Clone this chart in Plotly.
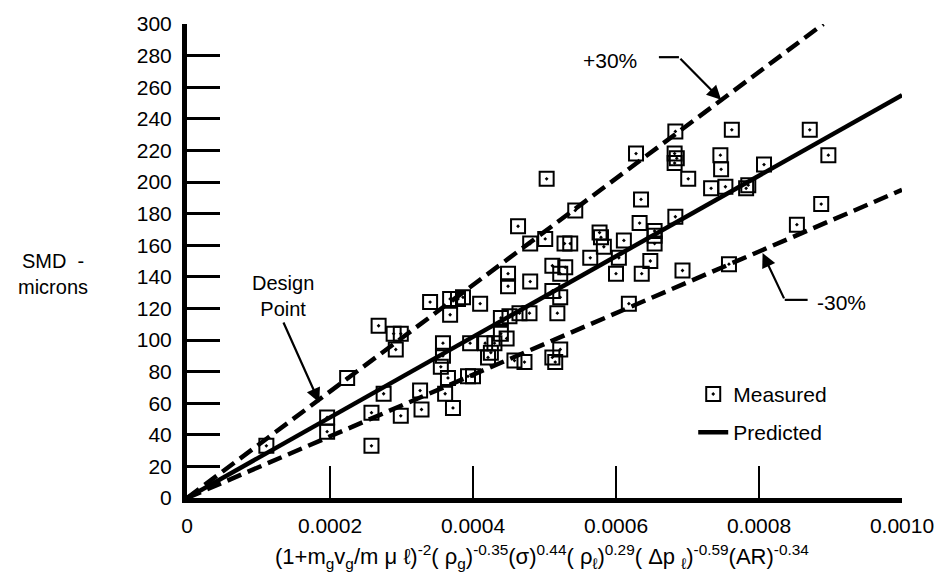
import plotly.graph_objects as go

# ---- data (x in units of 1e-4) ----
meas_x_e4 = [1.11, 1.96, 1.96, 2.24, 2.68, 2.89, 2.99, 2.92, 2.75, 2.58, 2.58, 2.99, 3.26, 3.28,
             3.40, 3.68, 3.79, 3.86, 4.10, 3.68, 3.58, 3.58, 3.55, 3.65, 3.61, 3.72, 3.93, 4.00,
             3.96, 4.17, 4.30, 4.21, 4.25, 4.39, 4.47, 4.39, 4.51, 4.65, 4.79, 4.58, 4.72, 4.49,
             4.49, 4.80, 4.63, 4.80, 5.01, 5.28, 5.03, 5.11, 5.22, 5.11, 5.22, 5.18, 5.11, 5.22,
             5.15, 5.36, 5.43, 5.29, 5.64, 5.77, 5.79, 5.83, 6.11, 6.04, 6.00, 6.36, 6.18, 6.28,
             6.35, 6.33, 6.54, 6.54, 6.54, 6.48, 6.83, 6.82, 6.82, 6.85, 6.83, 6.93, 7.01, 7.46,
             7.47, 7.33, 7.53, 7.82, 7.85, 7.62, 7.58, 8.07, 8.71, 8.97, 8.87, 8.53]
meas_y = [33, 51, 42, 76, 109, 104, 104, 94, 66, 54, 33, 52, 68, 56,
          124, 126, 126, 127, 123, 116, 98, 90, 83, 76, 66, 57, 77, 77,
          98, 98, 98, 89, 92, 104, 101, 114, 115, 117, 117, 87, 86, 142,
          134, 137, 172, 161, 164, 161, 202, 147, 142, 131, 127, 117, 89, 94,
          86, 161, 182, 146, 152, 168, 165, 159, 163, 152, 142, 142, 123, 218,
          189, 174, 169, 166, 161, 150, 232, 218, 212, 215, 178, 144, 202, 217,
          208, 196, 197, 196, 198, 233, 148, 211, 233, 217, 186, 173]
meas_x = [v * 1e-4 for v in meas_x_e4]

pred_x = [0, 0.0010]
pred_y = [0, 255]
upper_x = [0, 0.00089]
upper_y = [0, 300]
lower_x = [0, 0.0010]
lower_y = [0, 195]

x_tickvals = [0, 0.0002, 0.0004, 0.0006, 0.0008, 0.0010]
x_ticktext = ["0", "0.0002", "0.0004", "0.0006", "0.0008", "0.0010"]
y_tickvals = list(range(0, 301, 20))

FONT = "Liberation Sans, Arial, sans-serif"

fig = go.Figure()
fig.add_trace(go.Scatter(x=upper_x, y=upper_y, mode="lines", showlegend=False,
                         line=dict(color="black", width=4.5, dash="15px,7px")))
fig.add_trace(go.Scatter(x=lower_x, y=lower_y, mode="lines", showlegend=False,
                         line=dict(color="black", width=4.5, dash="15px,7px")))
fig.add_trace(go.Scatter(x=meas_x, y=meas_y, mode="markers", name="Measured",
                         legendgroup="a",
                         marker=dict(symbol="square-open-dot", size=14, color="black",
                                     line=dict(width=2, color="black"))))
fig.add_trace(go.Scatter(x=pred_x, y=pred_y, mode="lines", name="Predicted",
                         legendgroup="b",
                         line=dict(color="black", width=4.5)))

# annotations
ann = []
ann.append(dict(x=0.000591, y=277, text="+30%", showarrow=False, xref="x", yref="y",
                font=dict(size=21, family=FONT, color="black")))
ann.append(dict(x=0.000747, y=252, ax=0.000688, ay=279, axref="x", ayref="y", xref="x", yref="y",
                text="", showarrow=True, arrowhead=2, arrowsize=1.3, arrowwidth=2.2, arrowcolor="black"))
ann.append(dict(x=0.000916, y=123.5, text="-30%", showarrow=False, xref="x", yref="y",
                font=dict(size=21, family=FONT, color="black")))
ann.append(dict(x=0.000805, y=155, ax=0.000836, ay=125.4, axref="x", ayref="y", xref="x", yref="y",
                text="", showarrow=True, arrowhead=2, arrowsize=1.3, arrowwidth=2.2, arrowcolor="black"))
ann.append(dict(x=0.000134, y=128, text="Design<br>Point", showarrow=False, xref="x", yref="y",
                font=dict(size=20, family=FONT, color="black")))
ann.append(dict(x=0.000185, y=60.5, ax=0.000134, ay=112, axref="x", ayref="y", xref="x", yref="y",
                text="", showarrow=True, arrowhead=2, arrowsize=1.3, arrowwidth=2.2, arrowcolor="black"))
ann.append(dict(x=-0.188, y=0.473, xref="paper", yref="paper", showarrow=False,
                xanchor="center", yanchor="middle",
                text="SMD  -<br>microns", font=dict(size=20, family=FONT, color="black")))
ann.append(dict(x=0.497, y=-0.123, xref="paper", yref="paper", showarrow=False,
                xanchor="center", yanchor="middle",
                text="(1+m<sub>g</sub>v<sub>g</sub>/m \u03bc \u2113)<sup>-2</sup>( \u03c1<sub>g</sub>)<sup>-0.35</sup>(\u03c3)<sup>0.44</sup>( \u03c1<sub>\u2113</sub>)<sup>0.29</sup>( \u0394p <sub>\u2113</sub>)<sup>-0.59</sup>(AR)<sup>-0.34</sup>",
                font=dict(size=22, family=FONT, color="black")))

shapes = [
    dict(type="line", xref="x", yref="y", x0=0.000660, y0=279, x1=0.000688, y1=279,
         line=dict(color="black", width=2.2)),
    dict(type="line", xref="x", yref="y", x0=0.000836, y0=125.4, x1=0.000868, y1=125.4,
         line=dict(color="black", width=2.2)),
]

fig.update_layout(
    width=946, height=581,
    margin=dict(l=187, r=41, t=22, b=83, pad=0),
    paper_bgcolor="white", plot_bgcolor="white",
    font=dict(family=FONT, size=21, color="black"),
    showlegend=True,
    legend=dict(x=0.708, y=0.262, xanchor="left", yanchor="top", traceorder="grouped",
                tracegroupgap=8, bgcolor="rgba(0,0,0,0)", font=dict(size=21, family=FONT)),
    annotations=ann,
    shapes=shapes,
    xaxis=dict(range=[0, 0.0010], tickvals=x_tickvals, ticktext=x_ticktext,
               ticks="inside", ticklen=32, tickwidth=2, tickcolor="black",
               showline=True, linewidth=5, linecolor="black", showgrid=False, zeroline=False,
               ticklabelstandoff=5, tickfont=dict(size=21, family=FONT)),
    yaxis=dict(range=[0, 300], tickvals=y_tickvals,
               ticks="inside", ticklen=33, tickwidth=3, tickcolor="black",
               showline=True, linewidth=5, linecolor="black", showgrid=False, zeroline=False,
               ticklabelstandoff=6, tickfont=dict(size=21, family=FONT)),
)

fig.write_html("out.html")
